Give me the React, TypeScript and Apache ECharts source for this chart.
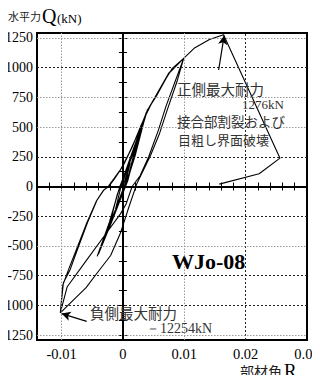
import React, { useEffect, useRef } from 'react';
import * as echarts from 'echarts';

// Axis ticks / labels
const rLabels = [-0.01, 0, 0.01, 0.02, 0.03];
const rTicks = [-0.014, -0.012, -0.01, -0.008, -0.006, -0.004, -0.002, 0, 0.002, 0.004, 0.006, 0.008, 0.01, 0.012, 0.014, 0.016, 0.018, 0.02, 0.022, 0.024, 0.026, 0.028, 0.03];
const qLabels = [-1250, -1000, -750, -500, -250, 0, 250, 500, 750, 1000, 1250];
const qTicks = [-1250, -1125, -1000, -875, -750, -625, -500, -375, -250, -125, 0, 125, 250, 375, 500, 625, 750, 875, 1000, 1125, 1250];

// Grid lines (value, dark?)
const rGrid = [-0.01, 0.01, 0.02];
const rGridDark = [false, false, true];
const qGrid = [-1250, -1000, -750, -500, -250, 250, 500, 750, 1000, 1250];
const qGridDark = [false, true, true, false, true, true, false, false, true, false];

// Hysteresis path segments [R, Q(kN)]
const smallCycles = [
  [0, 0], [0.0012, 200], [0.0004, 30], [-0.0012, -190], [-0.0004, -20],
  [0.0024, 400], [0.0010, 110], [-0.0024, -370], [-0.0010, -80],
  [0.0038, 620], [0.0020, 260], [0.0004, 0], [-0.0020, -290], [-0.0042, -587],
  [-0.0022, -300], [-0.0005, 0], [0.0018, 300], [0.0040, 645],
  [0.0022, 330], [0.0008, 50], [-0.0020, -320], [-0.0040, -570],
  [-0.0024, -340], [-0.0008, -50], [0.0020, 320], [0.0040, 640],
];
const firstLoad = [[0.0055, 775], [0.0075, 955], [0.0099, 1077]];
const unload1 = [
  [0.0086, 895], [0.0070, 671], [0.0058, 476], [0.0042, 250], [0.0028, 90], [0.0015, 0],
  [0.0005, -150], [-0.0004, -230], [-0.0031, -420], [-0.0058, -610], [-0.0091, -845], [-0.0102, -1062],
];
const reload1 = [
  [-0.0097, -809], [-0.0086, -699], [-0.0072, -500], [-0.0058, -307], [-0.0042, -112],
  [-0.0031, -28], [-0.0023, 0], [-0.0015, 56], [-0.0004, 140], [0.0010, 280], [0.0025, 450],
  [0.0040, 643], [0.0054, 755], [0.0075, 951], [0.0099, 1077],
];
const unload2 = [
  [0.0088, 880], [0.0072, 640], [0.0060, 450], [0.0045, 260], [0.0023, 28], [0.0008, -200],
  [-0.0004, -391], [-0.0020, -580], [-0.0042, -727], [-0.0060, -850], [-0.0080, -951], [-0.0102, -1062],
];
const reload2 = [
  [-0.0098, -830], [-0.0088, -690], [-0.0060, -320], [-0.0043, -120], [-0.0032, -35],
  [-0.0024, 0], [-0.0014, 70], [0, 170], [0.0015, 330], [0.0030, 520], [0.0045, 680],
  [0.0060, 820], [0.0080, 990], [0.0099, 1077],
];
const finalPush = [
  [0.0116, 1161], [0.0141, 1236], [0.0164, 1276], [0.0256, 238], [0.0222, 107], [0.0157, 20],
];

// Annotation arrows [from, to]
const posArrow = [[0.0156, 979], [0.0165, 1268]];
const negArrow = [[-0.0059, -1133], [-0.0100, -1068]];

const SERIF = '"Liberation Serif", "Times New Roman", serif';
const CJK = '"Noto Sans CJK JP", sans-serif';

export default function App() {
  const ref = useRef<HTMLDivElement>(null);
  useEffect(() => {
    if (!ref.current) return;
    const chart = echarts.init(ref.current, null, { renderer: 'svg' });
    const path = [...smallCycles, ...firstLoad, ...unload1, ...reload1, ...unload2, ...reload2, ...finalPush];
    const isLabelR = (v: number) => rLabels.some((l) => Math.abs(l - v) < 1e-9);

    const gridLines: any[] = [];
    rGrid.forEach((v, i) =>
      gridLines.push({
        xAxis: v,
        lineStyle: { color: rGridDark[i] ? '#222' : '#999', type: rGridDark[i] ? [2, 2] : [1.5, 1.5], width: 1 },
      })
    );
    qGrid.forEach((v, i) =>
      gridLines.push({
        yAxis: v,
        lineStyle: { color: qGridDark[i] ? '#222' : '#999', type: qGridDark[i] ? [2, 2] : [1.5, 1.5], width: 1 },
      })
    );
    gridLines.push({ xAxis: 0, lineStyle: { color: '#000', type: 'solid', width: 2 } });
    gridLines.push({ yAxis: 0, lineStyle: { color: '#000', type: 'solid', width: 2 } });

    const tickCommon = { show: true, inside: true, length: 4, lineStyle: { color: '#000', width: 1 } };

    const option: any = {
      animation: false,
      grid: {
        left: 37, right: 13, top: 33, bottom: 43, show: true, borderColor: '#000', borderWidth: 2,
        backgroundColor: 'transparent', containLabel: false, outerBoundsMode: 'none',
      },
      xAxis: [
        {
          type: 'value', min: -0.014, max: 0.03, interval: 0.002, position: 'bottom',
          axisLine: { show: false },
          axisTick: { ...tickCommon, customValues: rTicks },
          axisLabel: {
            customValues: rLabels,
            formatter: (v: number) => (isLabelR(v) ? String(Math.round(v * 100) / 100) : ''),
            color: '#000', fontFamily: SERIF, fontSize: 14.5, margin: 6,
          },
          splitLine: { show: false },
        },
        {
          type: 'value', min: -0.014, max: 0.03, interval: 0.002, position: 'top',
          axisLine: { show: false },
          axisTick: { ...tickCommon, customValues: rTicks },
          axisLabel: { show: false },
          splitLine: { show: false },
        },
      ],
      yAxis: [
        {
          type: 'value', min: -1290, max: 1290, position: 'left',
          axisLine: { show: false },
          axisTick: { ...tickCommon, customValues: qTicks },
          axisLabel: {
            customValues: qLabels, formatter: (v: number) => String(v),
            color: '#000', fontFamily: SERIF, fontSize: 14, margin: 4,
          },
          splitLine: { show: false },
        },
        {
          type: 'value', min: -1290, max: 1290, position: 'right',
          axisLine: { show: false },
          axisTick: { ...tickCommon, customValues: qTicks },
          axisLabel: { show: false },
          splitLine: { show: false },
        },
      ],
      series: [
        {
          type: 'line', data: [], silent: true, z: 1,
          markLine: { silent: true, symbol: ['none', 'none'], label: { show: false }, animation: false, data: gridLines },
        },
        {
          type: 'line', data: path, showSymbol: false, symbol: 'none', z: 3,
          lineStyle: { color: '#000', width: 1.1 },
          markLine: {
            silent: true, symbol: ['none', 'arrow'], symbolSize: [7, 9], label: { show: false }, animation: false,
            lineStyle: { color: '#000', type: 'solid', width: 1.2 },
            data: [
              [{ coord: posArrow[0] }, { coord: posArrow[1] }],
              [{ coord: negArrow[0] }, { coord: negArrow[1] }],
            ],
          },
        },
      ],
      graphic: [
        { type: 'text', x: 8, y: 16, style: { text: '水平力', font: `11px ${CJK}`, fill: '#222', verticalAlign: 'middle' } },
        { type: 'text', x: 42, y: 16, style: { text: 'Q', font: `20px ${SERIF}`, fill: '#000', verticalAlign: 'middle' } },
        { type: 'text', x: 57, y: 18, style: { text: '(kN)', font: `13px ${SERIF}`, fill: '#000', verticalAlign: 'middle' } },
        { type: 'text', x: 240, y: 371, style: { text: '部材角', font: `14px ${CJK}`, fill: '#222', verticalAlign: 'middle' } },
        { type: 'text', x: 284, y: 370, style: { text: 'R', font: `19px ${SERIF}`, fill: '#000', verticalAlign: 'middle' } },
        { type: 'text', x: 177, y: 88.5, z: 10, style: { text: '正側最大耐力', font: `14.5px ${CJK}`, fill: '#333', verticalAlign: 'middle' } },
        { type: 'text', x: 284, y: 104.5, z: 10, style: { text: '1276kN', font: `13px ${SERIF}`, fill: '#333', align: 'right', verticalAlign: 'middle' } },
        { type: 'text', x: 177, y: 120.5, z: 10, style: { text: '接合部割裂および', font: `13.5px ${CJK}`, fill: '#333', verticalAlign: 'middle' } },
        { type: 'text', x: 178, y: 139, z: 10, style: { text: '目粗し界面破壊', font: `13px ${CJK}`, fill: '#333', verticalAlign: 'middle' } },
        { type: 'text', x: 172, y: 261, z: 10, style: { text: 'WJo-08', font: `bold 22px ${SERIF}`, fill: '#000', verticalAlign: 'middle' } },
        { type: 'text', x: 90, y: 312, z: 10, style: { text: '負側最大耐力', font: `14.5px ${CJK}`, fill: '#333', verticalAlign: 'middle' } },
        { type: 'text', x: 212, y: 328, z: 10, style: { text: '－12254kN', font: `14px ${SERIF}`, fill: '#333', align: 'right', verticalAlign: 'middle' } },
      ],
    };
    chart.setOption(option);
    return () => chart.dispose();
  }, []);
  return <div ref={ref} style={{ width: 320, height: 383, margin: -8 }} />;
}
